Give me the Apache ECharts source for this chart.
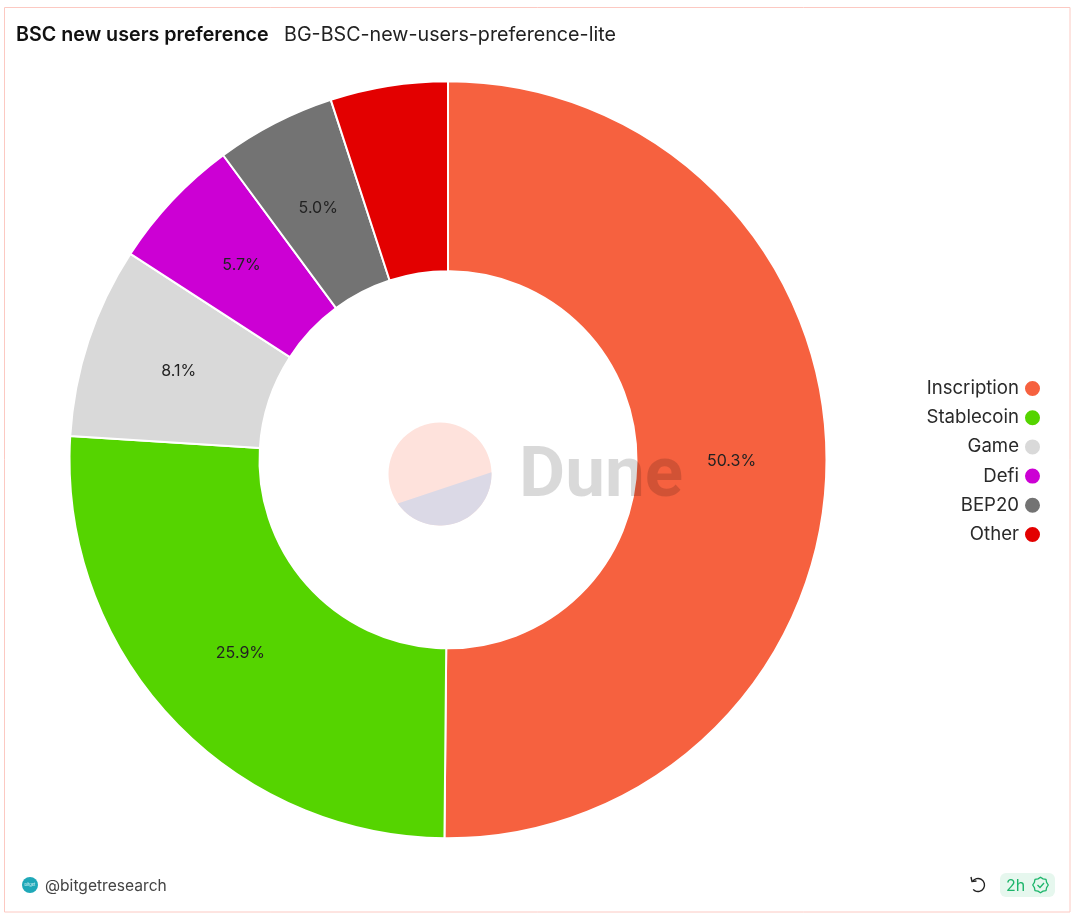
<!DOCTYPE html>
<html>
<head>
<meta charset="utf-8">
<title>BSC new users preference</title>
<script src="https://cdn.jsdelivr.net/npm/echarts@6/dist/echarts.min.js"></script>
<style>
  html, body { margin: 0; padding: 0; background: #fff; }
  #main { width: 1080px; height: 924px; }
</style>
</head>
<body>
<div id="main"></div>
<script>
var categories = ['Inscription', 'Stablecoin', 'Game', 'Defi', 'BEP20', 'Other'];
var shares = [50.15, 25.85, 8.16, 5.72, 5.11, 5.01];
var shareLabels = ['50.3%', '25.9%', '8.1%', '5.7%', '5.0%', ''];
var colors = ['#f6613f', '#55d400', '#d9d9d9', '#cc00d4', '#737373', '#e30000'];
var FONT = 'Inter, sans-serif';
var CENTER = [448, 459.8];

var chart = echarts.init(document.getElementById('main'), null, { renderer: 'canvas' });

var pieData = categories.map(function (name, i) {
    return { name: name, value: shares[i] };
});

// lower part of the watermark logo, a circle segment as a polygon
function logoSegment(cx, cy, r, fromDeg, toDeg) {
    var pts = [];
    for (var a = fromDeg; a <= toDeg; a += 3) {
        pts.push([cx + r * Math.cos(a * Math.PI / 180), cy + r * Math.sin(a * Math.PI / 180)]);
    }
    return pts;
}

// wavy outline of the freshness badge
function badgeOutline(cx, cy, rOut, rIn, lobes) {
    var pts = [];
    for (var i = 0; i < lobes * 2; i++) {
        var r = i % 2 ? rIn : rOut;
        var a = i * Math.PI / lobes;
        pts.push([cx + r * Math.cos(a), cy + r * Math.sin(a)]);
    }
    return pts;
}

chart.setOption({
    animation: false,
    color: colors,
    textStyle: { fontFamily: FONT },
    title: [
        { text: 'BSC new users preference', left: 16, top: 25, padding: 0,
          textStyle: { fontFamily: FONT, fontSize: 19.7, fontWeight: 600, color: '#111' } },
        { text: 'BG-BSC-new-users-preference-lite', left: 284, top: 25, padding: 0,
          textStyle: { fontFamily: FONT, fontSize: 19.7, fontWeight: 400, color: '#222' } }
    ],
    legend: {
        orient: 'vertical',
        right: 38,
        top: 379,
        align: 'right',
        icon: 'circle',
        itemWidth: 17,
        itemHeight: 17,
        itemGap: 10.2,
        padding: 0,
        selectedMode: false,
        data: categories,
        textStyle: { fontFamily: FONT, fontSize: 18.6, color: '#2a2a2a' }
    },
    series: [{
        type: 'pie',
        center: CENTER,
        radius: [188.5, 378.5],
        startAngle: 90,
        clockwise: true,
        avoidLabelOverlap: false,
        itemStyle: { borderColor: '#fff', borderWidth: 2 },
        label: {
            show: true,
            position: 'inside',
            formatter: function (p) { return shareLabels[p.dataIndex]; },
            fontFamily: FONT,
            fontSize: 16,
            color: '#222'
        },
        // labels sit a touch closer to the hole than the ring middle
        labelLayout: function (p) {
            var mx = p.labelRect.x + p.labelRect.width / 2;
            var my = p.labelRect.y + p.labelRect.height / 2;
            var dx = mx - CENTER[0];
            var dy = my - CENTER[1];
            var d = Math.sqrt(dx * dx + dy * dy) || 1;
            return { x: mx - dx / d * 3, y: my - dy / d * 3 };
        },
        labelLine: { show: false },
        emphasis: { disabled: true },
        data: pieData
    }],
    graphic: [
        // card border
        { type: 'rect', z: 0, shape: { x: 4.5, y: 7.5, width: 1065.5, height: 904.5 },
          style: { fill: 'none', stroke: '#fcc9c2', lineWidth: 1 } },
        // dune watermark
        { type: 'circle', z: 100, shape: { cx: 440, cy: 474, r: 51.5 }, style: { fill: '#fee2dc' } },
        { type: 'polygon', z: 101, shape: { points: logoSegment(440, 474, 51.5, -2, 146) },
          style: { fill: '#dbd9e6' } },
        { type: 'text', z: 102, x: 519, y: 443, style: { text: 'Dune', fontFamily: 'Roboto, sans-serif',
          fontWeight: 700, fontSize: 71, fill: 'rgba(0,0,0,0.15)' } },
        // footer left
        { type: 'circle', z: 5, shape: { cx: 30, cy: 885, r: 8 }, style: { fill: '#1fa8b8' } },
        { type: 'text', z: 6, x: 24.5, y: 882.5, style: { text: 'bitget', fontFamily: FONT, fontSize: 4, fill: '#e8f8fa' } },
        { type: 'text', z: 5, x: 45, y: 878, style: { text: '@bitgetresearch', fontFamily: FONT,
          fontSize: 15.6, fill: '#444' } },
        // footer right
        { type: 'arc', z: 5, shape: { cx: 978, cy: 885, r: 6.5, startAngle: -2.6, endAngle: 2.4, clockwise: true },
          style: { fill: 'none', stroke: '#222', lineWidth: 1.4 } },
        { type: 'polyline', z: 5, shape: { points: [[971, 877], [972, 881.5], [976.5, 881]] },
          style: { fill: 'none', stroke: '#222', lineWidth: 1.4 } },
        { type: 'rect', z: 5, shape: { x: 1000, y: 873, width: 55, height: 24, r: 6 }, style: { fill: '#e6f7ee' } },
        { type: 'text', z: 6, x: 1006, y: 878, style: { text: '2h', fontFamily: FONT, fontSize: 16, fill: '#1cb56a' } },
        { type: 'polygon', z: 6, shape: { points: badgeOutline(1040.5, 885, 7.8, 6.6, 8) },
          style: { fill: 'none', stroke: '#1cb56a', lineWidth: 1.3, lineJoin: 'round' } },
        { type: 'polyline', z: 6, shape: { points: [[1037.5, 885], [1040, 887.5], [1044, 883]] },
          style: { fill: 'none', stroke: '#1cb56a', lineWidth: 1.3 } }
    ]
});
</script>
</body>
</html>
